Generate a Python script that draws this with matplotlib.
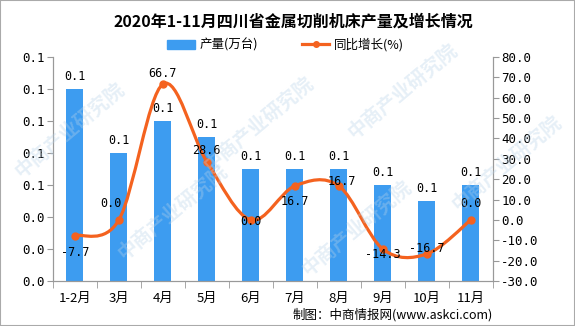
import matplotlib.pyplot as plt
from matplotlib.path import Path
from matplotlib.patches import PathPatch, Patch
from matplotlib.lines import Line2D
import numpy as np

plt.rcParams['font.family'] = ['Noto Sans CJK SC', 'DejaVu Sans']

# dades llegides del gràfic
months = ['1-2月', '3月', '4月', '5月', '6月', '7月', '8月', '9月', '10月', '11月']
output = [0.12, 0.08, 0.10, 0.09, 0.07, 0.07, 0.07, 0.06, 0.05, 0.06]
growth = [-7.7, 0.0, 66.7, 28.6, 0.0, 16.7, 16.7, -14.3, -16.7, 0.0]
left_ticks = [0, 0.02, 0.04, 0.06, 0.08, 0.10, 0.12, 0.14]
right_ticks = [-30, -20, -10, 0, 10, 20, 30, 40, 50, 60, 70, 80]

# desplaçaments de les etiquetes de la línia (punts)
line_label_offsets = [(0, -12), (-6, 12), (0, 8), (0, 8), (0, -1), (0, -11),
                      (2, 3), (0, -4), (0, 4), (0, 12)]

bar_color = '#3d9cf0'
line_color = '#f4621f'
mono = ['DejaVu Sans Mono', 'Noto Sans CJK SC']

fig = plt.figure(figsize=(5.75, 3.26), dpi=100)
ax = fig.add_axes([0.092, 0.138, 0.765, 0.687])
ax2 = ax.twinx()

x = np.arange(len(months))
bars = ax.bar(x, output, width=0.39, color=bar_color, zorder=2)
for xi, v in zip(x, output):
    ax.annotate('%.1f' % v, (xi, v), xytext=(0, 4), textcoords='offset points',
                ha='center', va='bottom', fontsize=8.5, family=mono, zorder=5)

ax.set_xlim(-0.5, len(months) - 0.5)
ax.set_ylim(0, 0.14)
ax.set_yticks(left_ticks)
ax.set_yticklabels(['%.1f' % t for t in left_ticks], family=mono, fontsize=9)
ax.set_xticks(x)
ax.set_xticklabels(months, fontsize=9.5)
ax.set_xticks(np.arange(len(months) + 1) - 0.5, minor=True)
ax.tick_params(axis='x', which='major', length=0, pad=8)
ax.tick_params(axis='x', which='minor', length=5, color='#999999')
ax.tick_params(axis='y', length=4, color='#999999', pad=2)

# línia suavitzada (Bezier tipus Catmull-Rom, com l'Excel)
pts = np.column_stack([x, growth]).astype(float)
verts = [pts[0]]
codes = [Path.MOVETO]
n = len(pts)
for i in range(n - 1):
    p0 = pts[max(i - 1, 0)]
    p1 = pts[i]
    p2 = pts[i + 1]
    p3 = pts[min(i + 2, n - 1)]
    verts += [p1 + (p2 - p0) / 6, p2 - (p3 - p1) / 6, p2]
    codes += [Path.CURVE4] * 3
ax2.add_patch(PathPatch(Path(verts, codes), fill=False, edgecolor=line_color,
                        lw=2.3, zorder=3))
ax2.plot(x, growth, 'o', color=line_color, markersize=5, zorder=4)
for xi, v, off in zip(x, growth, line_label_offsets):
    ax2.annotate('%.1f' % v, (xi, v), xytext=off, textcoords='offset points',
                 ha='center', va='center', fontsize=8.5, family=mono, zorder=5)

ax2.set_ylim(-30, 80)
ax2.set_yticks(right_ticks)
ax2.set_yticklabels(['%.1f' % t for t in right_ticks], family=mono, fontsize=9)
ax2.tick_params(axis='y', length=4, color='#999999', pad=2)

for a in (ax, ax2):
    a.spines['top'].set_visible(False)
    for s in ('left', 'right', 'bottom'):
        a.spines[s].set_color('#999999')

# títol i llegenda
fig.text(0.51, 0.935, '2020年1-11月四川省金属切削机床产量及增长情况',
         ha='center', va='center', fontsize=11.5, fontweight='bold')
handles = [Patch(color=bar_color),
           Line2D([0], [0], color=line_color, lw=2.3, marker='o', markersize=4)]
fig.legend(handles, ['产量(万台)', '同比增长(%)'], loc='center', ncol=2,
           bbox_to_anchor=(0.497, 0.862), frameon=False, fontsize=9,
           handlelength=2.2, handleheight=0.8, columnspacing=3.5, handletextpad=0.4)

# marca d'aigua
for wx, wy in [(0.12, 0.6), (0.3, 0.35), (0.45, 0.62), (0.62, 0.3),
               (0.7, 0.72), (0.88, 0.5)]:
    fig.text(wx, wy, '中商产业研究院', rotation=40, fontsize=14, color='#b8d3e8',
             alpha=0.35, ha='center', va='center', fontweight='bold', zorder=10)

fig.text(0.857, 0.035, '制图：中商情报网(www.askci.com)', ha='right', va='center',
         fontsize=9)

fig.patches.append(plt.Rectangle((0, 0), 1, 1, transform=fig.transFigure,
                                 fill=False, edgecolor='#aaaaaa', lw=1.5))

fig.savefig('out.png', dpi=100)
